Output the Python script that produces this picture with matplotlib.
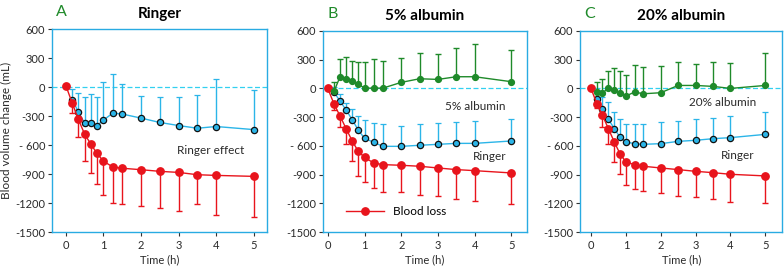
import numpy as np
import matplotlib
matplotlib.use("Agg")
import matplotlib.pyplot as plt
from matplotlib.lines import Line2D

plt.rcParams['font.family'] = ['Lato', 'DejaVu Sans']

# time points (h)
t = [0, 0.17, 0.33, 0.5, 0.67, 0.83, 1, 1.25, 1.5, 2, 2.5, 3, 3.5, 4, 5]
t_inf = t[1:]

# Panel A - Ringer
a_loss = [15, -167, -331, -488, -593, -687, -767, -827, -840, -855, -872, -883, -907, -914, -924]
a_loss_sd = [0, 100, 185, 276, 300, 311, 346, 369, 374, 376, 384, 397, 307, 406, 420]
a_ring = [-129, -255, -373, -373, -398, -342, -269, -279, -321, -366, -398, -426, -408, -440]
a_ring_sd = [105, 196, 268, 300, 293, 394, 409, 314, 227, 261, 293, 346, 495, 412]

# Panel B - 5% albumin
b_loss = [0, -163, -285, -421, -553, -657, -720, -779, -796, -803, -813, -831, -848, -859, -883]
b_loss_sd = [0, 63, 115, 159, 208, 254, 260, 264, 282, 282, 296, 295, 306, 312, 323]
b_ring = [-40, -130, -226, -330, -435, -521, -563, -605, -605, -594, -584, -574, -574, -549]
b_ring_sd = [60, 70, 70, 110, 150, 190, 198, 233, 216, 222, 219, 219, 230, 229]
b_alb = [-31, 118, 94, 76, 45, 3, 3, 3, 63, 101, 94, 122, 122, 70]
b_alb_sd = [94, 188, 236, 212, 226, 268, 303, 285, 253, 267, 267, 299, 340, 333]

# Panel C - 20% albumin
c_loss = [0, -160, -282, -421, -560, -681, -768, -796, -813, -831, -848, -866, -880, -897, -914]
c_loss_sd = [0, 45, 121, 163, 208, 216, 244, 250, 258, 261, 275, 267, 278, 288, 278]
c_ring = [-108, -219, -323, -420, -508, -560, -577, -584, -577, -553, -542, -525, -514, -480]
c_ring_sd = [94, 129, 180, 173, 185, 185, 202, 209, 226, 212, 226, 216, 225, 233]
c_alb = [-38, -45, 0, -14, -45, -80, -38, -56, -45, 31, 31, 21, 0, 31]
c_alb_sd = [104, 145, 177, 229, 222, 215, 278, 275, 274, 240, 219, 250, 261, 337]

RED = '#e8141c'
BLUE = '#2bb5e8'
GREEN = '#1f8a2a'
FRAME = '#29abe2'
TXT = '#2a2a2a'

fig = plt.figure(figsize=(7.84, 2.67), dpi=100)

panels = [
    dict(pos=[0.0663, 0.131, 0.274, 0.760], xlim=(-0.37, 5.35), letter='A', title='Ringer',
         loss=a_loss, loss_sd=a_loss_sd, ring=a_ring, ring_sd=a_ring_sd, alb=None, alb_sd=None,
         texts=[(2.95, -656, 'Ringer effect')]),
    dict(pos=[0.412, 0.131, 0.260, 0.753], xlim=(-0.13, 5.42), letter='B', title='5% albumin',
         loss=b_loss, loss_sd=b_loss_sd, ring=b_ring, ring_sd=b_ring_sd, alb=b_alb, alb_sd=b_alb_sd,
         texts=[(3.2, -190, '5% albumin'), (3.96, -710, 'Ringer')]),
    dict(pos=[0.740, 0.131, 0.258, 0.753], xlim=(-0.31, 5.49), letter='C', title='20% albumin',
         loss=c_loss, loss_sd=c_loss_sd, ring=c_ring, ring_sd=c_ring_sd, alb=c_alb, alb_sd=c_alb_sd,
         texts=[(2.82, -150, '20% albumin'), (3.73, -699, 'Ringer')]),
]

for i, p in enumerate(panels):
    ax = fig.add_axes(p['pos'])
    ax.axhline(0, color='#33d0f0', lw=0.9, ls=(0, (4, 2)), zorder=1)

    rs = np.array(p['ring_sd'])
    ax.errorbar(t_inf, p['ring'], yerr=[np.zeros_like(rs), rs], color=BLUE, lw=1.0,
                elinewidth=1.0, capsize=2.2, capthick=1.0, marker='o', ms=4.5,
                mfc=BLUE, mec='#111111', mew=0.9, zorder=3)

    ls = np.array(p['loss_sd'])
    ax.errorbar(t, p['loss'], yerr=[ls, np.zeros_like(ls)], color=RED, lw=1.0,
                elinewidth=1.0, capsize=2.2, capthick=1.0, marker='o', ms=5.3,
                mfc=RED, mec=RED, zorder=4)

    if p['alb'] is not None:
        gs = np.array(p['alb_sd'])
        ax.errorbar(t_inf, p['alb'], yerr=[np.zeros_like(gs), gs], color=GREEN, lw=1.0,
                    elinewidth=1.0, capsize=2.2, capthick=1.0, marker='o', ms=4.2,
                    mfc=GREEN, mec=GREEN, zorder=5)

    ax.set_xlim(*p['xlim'])
    ax.set_ylim(-1500, 600)
    ax.set_xticks(range(6))
    ax.set_yticks(range(-1500, 601, 300))
    ax.set_yticklabels(['-1500', '-1200', '-900', '- 600', '-300', '0', '300', '600'])
    ax.tick_params(labelsize=8, length=3, width=0.8, color='#333333', labelcolor=TXT, pad=2)
    ax.tick_params(axis='x', pad=3)
    for s in ax.spines.values():
        s.set_color(FRAME)
        s.set_linewidth(1.0)
    ax.set_xlabel('Time (h)', fontsize=8, labelpad=2, color=TXT)
    if i == 0:
        ax.set_ylabel('Blood volume change (mL)', fontsize=8.5, labelpad=2, color=TXT)

    ax.set_title(p['title'], fontsize=11, fontweight='bold', pad=8)
    ax.text(0.02, 1.05, p['letter'], transform=ax.transAxes, fontsize=11.5, color=GREEN,
            ha='left', va='bottom')
    for (x, y, s) in p['texts']:
        ax.text(x, y, s, fontsize=8.5, color=TXT, ha='left', va='center')

    if i == 1:
        h = Line2D([], [], color=RED, lw=1.0, marker='o', ms=5.3)
        ax.legend([h], ['Blood loss'], loc='lower left', bbox_to_anchor=(0.06, 0.02),
                  frameon=False, fontsize=8.5, handlelength=3.2, handletextpad=0.8)

fig.savefig('out.png', dpi=100)
